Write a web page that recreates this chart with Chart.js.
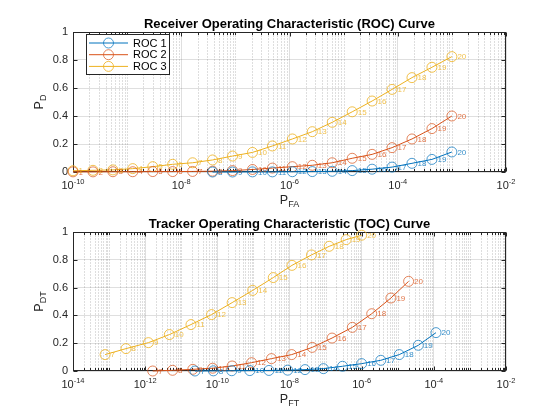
<!DOCTYPE html>
<html>
<head>
<meta charset="utf-8">
<script src="https://cdn.jsdelivr.net/npm/chart.js@4.4.1/dist/chart.umd.min.js"></script>
<style>
    body { margin: 0; background: #fff; width: 560px; height: 420px; position: relative; overflow: hidden; }
    .panel { position: absolute; left: 0; width: 560px; }
    #rocPanel { top: 0; height: 210px; }
    #tocPanel { top: 200px; height: 220px; }
</style>
</head>
<body>
<div class="panel" id="rocPanel"><canvas id="rocChart" width="560" height="210"></canvas></div>
<div class="panel" id="tocPanel"><canvas id="tocChart" width="560" height="220"></canvas></div>
<script>
// ---- data ----

const seriesNames = ['ROC 1', 'ROC 2', 'ROC 3'];

// ROC: false alarm probability, shared by the three curves
const rocPfa = [1e-10, 2.34e-10, 5.46e-10, 1.27e-9, 2.98e-9, 6.95e-9, 1.62e-8, 3.79e-8, 8.86e-8, 2.07e-7,
                4.83e-7, 1.13e-6, 2.64e-6, 6.16e-6, 1.44e-5, 3.36e-5, 7.85e-5, 1.83e-4, 4.28e-4, 1e-3];
const rocIndex = [1, 2, 3, 4, 5, 6, 7, 8, 9, 10, 11, 12, 13, 14, 15, 16, 17, 18, 19, 20];
const rocPd1 = [null, null, null, null, null, null, null, 0.0, 0.0, 0.001,
                0.001, 0.002, 0.003, 0.005, 0.01, 0.02, 0.035, 0.062, 0.09, 0.143];
const rocPd2 = [0.001, 0.001, 0.002, 0.002, 0.003, 0.003, 0.004, 0.006, 0.01, 0.018,
                0.028, 0.038, 0.048, 0.066, 0.098, 0.126, 0.174, 0.236, 0.31, 0.40];
const rocPd3 = [0.009, 0.012, 0.015, 0.024, 0.038, 0.055, 0.066, 0.086, 0.114, 0.14,
                0.186, 0.236, 0.288, 0.355, 0.43, 0.507, 0.59, 0.674, 0.748, 0.824];

// TOC: each curve has its own false track probability
const tocIndex = [7, 8, 9, 10, 11, 12, 13, 14, 15, 16, 17, 18, 19, 20];
const tocPft1 = [2.4e-11, 7.76e-11, 2.51e-10, 7.94e-10, 2.69e-9, 8.91e-9, 2.69e-8,
                 8.71e-8, 2.95e-7, 1.0e-6, 3.39e-6, 1.1e-5, 3.72e-5, 1.15e-4];
const tocPdt1 = [0.0, 0.001, 0.002, 0.003, 0.004, 0.006, 0.01, 0.017, 0.034, 0.053, 0.077, 0.118, 0.185, 0.276];
const tocPft2 = [1.62e-12, 5.75e-12, 2.09e-11, 7.41e-11, 2.57e-10, 8.91e-10, 3.16e-9,
                 1.15e-8, 4.27e-8, 1.51e-7, 5.5e-7, 1.9e-6, 6.46e-6, 2.0e-5];
const tocPdt2 = [0.0, 0.005, 0.012, 0.02, 0.036, 0.06, 0.089, 0.118, 0.17, 0.237, 0.314, 0.412, 0.525, 0.645];
const tocPft3 = [7.76e-14, 2.95e-13, 1.23e-12, 4.68e-12, 1.86e-11, 6.92e-11, 2.57e-10,
                 9.55e-10, 3.55e-9, 1.17e-8, 4.07e-8, 1.26e-7, 3.72e-7, 1.0e-6];
const tocPdt3 = [0.118, 0.161, 0.204, 0.262, 0.334, 0.406, 0.492, 0.58, 0.672, 0.76, 0.835, 0.897, 0.945, 0.977];

const rocXTicks = [1e-10, 1e-8, 1e-6, 1e-4, 1e-2];
const tocXTicks = [1e-14, 1e-12, 1e-10, 1e-8, 1e-6, 1e-4, 1e-2];
const yTicks = [0, 0.2, 0.4, 0.6, 0.8, 1];

// ---- styling ----
const FONT = '"Liberation Sans", Arial, Helvetica, sans-serif';
const AXIS_COLOR = '#262626';
const lineColors = ['#0072BD', '#D95319', '#EDB120'];
const markerColors = ['rgba(0,114,189,0.7)', 'rgba(217,83,25,0.7)', 'rgba(237,177,32,0.8)'];

function toPoints(xs, ys) {
    const pts = [];
    xs.forEach((v, i) => {
        if (ys[i] !== null) pts.push({ x: v, y: ys[i] });
    });
    return pts;
}

function labelsFor(ys, index) {
    return index.filter((n, i) => ys[i] !== null);
}

function makeDataset(i, pts, labels) {
    return {
        label: seriesNames[i],
        data: pts,
        pointLabels: labels,
        borderColor: lineColors[i],
        borderWidth: 1,
        pointStyle: 'circle',
        pointRadius: 5,
        pointBorderWidth: 1,
        pointBorderColor: markerColors[i],
        pointBackgroundColor: 'rgba(0,0,0,0)',
        tension: 0,
        clip: false
    };
}

// minor log positions (k * 10^n) that are not labelled ticks
function minorValues(min, max, majors) {
    const out = [];
    const e0 = Math.floor(Math.log10(min));
    const e1 = Math.ceil(Math.log10(max));
    for (let e = e0; e <= e1; e++) {
        for (let k = 1; k <= 9; k++) {
            const v = k * Math.pow(10, e);
            if (v < min * 0.999 || v > max * 1.001) continue;
            if (k === 1 && majors.some(m => Math.abs(Math.log10(m) - e) < 1e-6)) continue;
            out.push(v);
        }
    }
    return out;
}

function drawSub(ctx, main, sub, x, y, size) {
    // draws "main" with a lowered subscript, centred on x
    ctx.font = size + 'px ' + FONT;
    const w1 = ctx.measureText(main).width;
    ctx.font = (size * 0.72) + 'px ' + FONT;
    const w2 = ctx.measureText(sub).width;
    const x0 = x - (w1 + w2) / 2;
    ctx.font = size + 'px ' + FONT;
    ctx.fillText(main, x0, y);
    ctx.font = (size * 0.72) + 'px ' + FONT;
    ctx.fillText(sub, x0 + w1, y + 3);
}

const matlabAxes = {
    id: 'matlabAxes',
    beforeDatasetsDraw(chart, args, opts) {
        const { ctx, chartArea: a, scales: { x, y } } = chart;
        const L = Math.round(a.left) + 0.5, R = Math.round(a.right) - 0.5;
        const T = Math.round(a.top) + 0.5, B = Math.round(a.bottom) - 0.5;
        ctx.save();
        ctx.lineWidth = 1;

        // dotted minor grid
        const minors = minorValues(x.min, x.max, opts.majors);
        ctx.strokeStyle = 'rgba(38,38,38,0.3)';
        ctx.setLineDash([1, 2]);
        ctx.beginPath();
        minors.forEach(v => {
            const px = Math.round(x.getPixelForValue(v)) + 0.5;
            ctx.moveTo(px, T);
            ctx.lineTo(px, B);
        });
        ctx.stroke();
        ctx.setLineDash([]);

        // inward ticks
        ctx.strokeStyle = AXIS_COLOR;
        ctx.beginPath();
        opts.majors.forEach(v => {
            const px = Math.round(x.getPixelForValue(v)) + 0.5;
            ctx.moveTo(px, B); ctx.lineTo(px, B - 4);
            ctx.moveTo(px, T); ctx.lineTo(px, T + 4);
        });
        minors.forEach(v => {
            const px = Math.round(x.getPixelForValue(v)) + 0.5;
            ctx.moveTo(px, B); ctx.lineTo(px, B - 2.5);
            ctx.moveTo(px, T); ctx.lineTo(px, T + 2.5);
        });
        yTicks.forEach(v => {
            const py = Math.round(y.getPixelForValue(v)) + 0.5;
            ctx.moveTo(L, py); ctx.lineTo(L + 4, py);
            ctx.moveTo(R, py); ctx.lineTo(R - 4, py);
        });
        ctx.stroke();

        // axes box
        ctx.strokeRect(L, T, R - L, B - T);
        ctx.restore();
    },
    afterDatasetsDraw(chart) {
        const ctx = chart.ctx;
        ctx.save();
        ctx.font = '8px ' + FONT;
        ctx.textAlign = 'left';
        ctx.textBaseline = 'middle';
        chart.data.datasets.forEach((ds, di) => {
            const meta = chart.getDatasetMeta(di);
            ctx.fillStyle = lineColors[seriesNames.indexOf(ds.label)];
            ctx.globalAlpha = 0.8;
            meta.data.forEach((pt, i) => {
                ctx.fillText(String(ds.pointLabels[i]), pt.x + 5.5, pt.y + 0.5);
            });
        });
        ctx.restore();
    },
    afterDraw(chart, args, opts) {
        const { ctx, chartArea: a, scales: { x } } = chart;
        const cx = (a.left + a.right) / 2;
        ctx.save();
        ctx.fillStyle = '#000';

        // title
        ctx.font = 'bold 13px ' + FONT;
        ctx.textAlign = 'center';
        ctx.textBaseline = 'alphabetic';
        ctx.fillText(opts.title, cx, a.top - 4);

        // x tick labels 10^n
        ctx.fillStyle = AXIS_COLOR;
        ctx.textAlign = 'left';
        opts.majors.forEach(v => {
            const px = x.getPixelForValue(v);
            const exp = String(Math.round(Math.log10(v)));
            ctx.font = '11px ' + FONT;
            const w1 = ctx.measureText('10').width;
            ctx.font = '7.5px ' + FONT;
            const w2 = ctx.measureText(exp).width;
            const x0 = px - (w1 + w2) / 2;
            const yb = a.bottom + 17;
            ctx.font = '11px ' + FONT;
            ctx.fillText('10', x0, yb);
            ctx.font = '7.5px ' + FONT;
            ctx.fillText(exp, x0 + w1, yb - 5);
        });

        // axis titles
        drawSub(ctx, 'P', opts.xSub, cx, a.bottom + 32, 12.5);
        ctx.save();
        ctx.translate(43, (a.top + a.bottom) / 2);
        ctx.rotate(-Math.PI / 2);
        drawSub(ctx, 'P', opts.ySub, 0, 0, 12.5);
        ctx.restore();

        // legend
        if (opts.legend) {
            ctx.fillStyle = '#fff';
            ctx.fillRect(86.5, 34.5, 83, 40);
            ctx.strokeStyle = AXIS_COLOR;
            ctx.lineWidth = 1;
            ctx.strokeRect(86.5, 34.5, 83, 40);
            seriesNames.forEach((name, i) => {
                const yy = 43 + i * 11.7;
                ctx.strokeStyle = lineColors[i];
                ctx.beginPath();
                ctx.moveTo(89, yy); ctx.lineTo(128, yy);
                ctx.stroke();
                ctx.strokeStyle = markerColors[i];
                ctx.beginPath();
                ctx.arc(108.5, yy, 5, 0, Math.PI * 2);
                ctx.stroke();
                ctx.fillStyle = '#000';
                ctx.font = '11px ' + FONT;
                ctx.textBaseline = 'middle';
                ctx.fillText(name, 133, yy + 0.5);
            });
        }
        ctx.restore();
    }
};

function makeChart(canvasId, datasets, xMin, xMax, majors, xAxisHeight, extra) {
    return new Chart(document.getElementById(canvasId), {
        type: 'line',
        data: { datasets: datasets },
        plugins: [matlabAxes],
        options: {
            responsive: false,
            animation: false,
            events: [],
            layout: { padding: { left: 0, right: 54, top: 32, bottom: 0 } },
            plugins: {
                legend: { display: false },
                tooltip: { enabled: false },
                title: { display: false },
                matlabAxes: Object.assign({ majors: majors }, extra)
            },
            scales: {
                x: {
                    type: 'logarithmic',
                    min: xMin,
                    max: xMax,
                    afterBuildTicks: scale => {
                        scale.ticks = majors.map(v => ({ value: v, major: true }));
                    },
                    afterFit: scale => { scale.height = xAxisHeight; },
                    ticks: { display: false },
                    border: { display: false },
                    grid: { color: 'rgba(38,38,38,0.15)', drawTicks: false }
                },
                y: {
                    min: 0,
                    max: 1,
                    afterBuildTicks: scale => {
                        scale.ticks = yTicks.map(v => ({ value: v }));
                    },
                    afterFit: scale => { scale.width = 73; },
                    ticks: {
                        padding: 5,
                        color: AXIS_COLOR,
                        font: { family: FONT, size: 11 },
                        callback: v => String(Math.round(v * 10) / 10)
                    },
                    border: { display: false },
                    grid: { color: 'rgba(38,38,38,0.15)', drawTicks: false }
                }
            }
        }
    });
}

// ROC chart
const rocSets = [rocPd1, rocPd2, rocPd3].map((pd, i) =>
    makeDataset(i, toPoints(rocPfa, pd), labelsFor(pd, rocIndex)));
makeChart('rocChart', rocSets, 1e-10, 1e-2, rocXTicks, 38, {
    title: 'Receiver Operating Characteristic (ROC) Curve',
    xSub: 'FA',
    ySub: 'D',
    legend: true
});

// TOC chart
const tocX = [tocPft1, tocPft2, tocPft3];
const tocY = [tocPdt1, tocPdt2, tocPdt3];
const tocSets = tocY.map((pdt, i) =>
    makeDataset(i, toPoints(tocX[i], pdt), labelsFor(pdt, tocIndex)));
makeChart('tocChart', tocSets, 1e-14, 1e-2, tocXTicks, 49, {
    title: 'Tracker Operating Characteristic (TOC) Curve',
    xSub: 'FT',
    ySub: 'DT',
    legend: false
});
</script>
</body>
</html>
